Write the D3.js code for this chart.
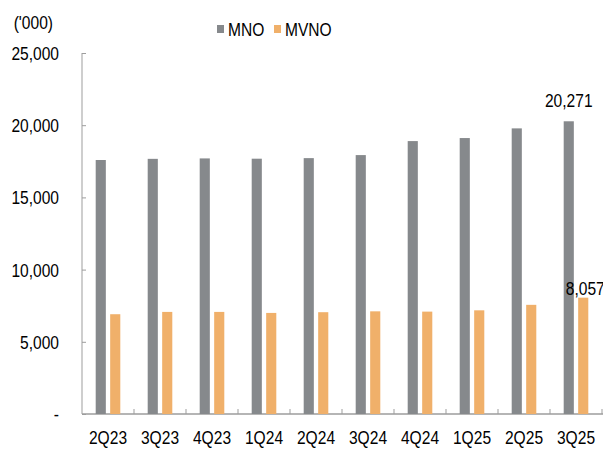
<!DOCTYPE html>
<html>
<head>
<meta charset="utf-8">
<script src="https://cdn.jsdelivr.net/npm/d3@7/dist/d3.min.js"></script>
<style>
  body { margin: 0; background: #fff; }
  text { font-family: "Liberation Sans", Arial, sans-serif; fill: #000; }
</style>
</head>
<body>
<svg width="603" height="450"></svg>
<script>
// quarters on the x axis
const quarters = ['2Q23', '3Q23', '4Q23', '1Q24', '2Q24', '3Q24', '4Q24', '1Q25', '2Q25', '3Q25'];
// subscribers ('000)
const mno = [17590, 17670, 17700, 17680, 17720, 17930, 18900, 19110, 19780, 20271];
const mvno = [6910, 7070, 7070, 7000, 7050, 7110, 7090, 7180, 7560, 8057];
const yTicks = [0, 5000, 10000, 15000, 20000, 25000];
const seriesNames = ['MNO', 'MVNO'];
const colors = ['#86898c', '#f0b06a'];

const svg = d3.select('svg');
const margin = { top: 53, right: 1, bottom: 36, left: 82 };
const innerWidth = 603 - margin.left - margin.right;
const innerHeight = 450 - margin.top - margin.bottom;

const g = svg.append('g')
  .attr('transform', `translate(${margin.left}, ${margin.top})`);

// the chart font is a narrow one, squeeze the regular sans to fake it
const narrow = 0.82;
function label(parent, x, y, str, anchor) {
  return parent.append('text')
    .attr('transform', `translate(${x}, ${y}) scale(${narrow}, 1)`)
    .attr('text-anchor', anchor)
    .attr('font-size', 19)
    .text(str);
}

const xScale = d3.scaleBand()
  .domain(quarters)
  .range([0, innerWidth]);

const xInner = d3.scaleBand()
  .domain(seriesNames)
  .range([13.7, 38.3])
  .paddingInner(0.3);

const yScale = d3.scaleLinear()
  .domain([0, 25000])
  .range([innerHeight, 0]);

const axisColor = '#9d9d9d';

// y axis
const yAxis = g.append('g').call(
  d3.axisRight(yScale).tickValues(yTicks).tickSize(4).tickFormat('')
);
yAxis.select('.domain').attr('stroke', axisColor).attr('d', `M0,0V${innerHeight}`);
yAxis.selectAll('.tick line').attr('stroke', axisColor);

yTicks.forEach(d => {
  label(g, -23, yScale(d) + 7, d === 0 ? '-' : d3.format(',')(d), 'end');
});

// x axis
const xAxis = g.append('g')
  .attr('transform', `translate(0, ${innerHeight})`)
  .call(d3.axisBottom(xScale).tickSize(0).tickFormat(''));
xAxis.select('.domain').attr('stroke', axisColor).attr('stroke-width', 1.5).attr('d', `M0,0H${innerWidth + 2}`);

g.selectAll('.xtick').data(quarters)
  .enter().append('line')
    .attr('class', 'xtick')
    .attr('x1', d => xScale(d) + xScale.bandwidth())
    .attr('x2', d => xScale(d) + xScale.bandwidth())
    .attr('y1', innerHeight)
    .attr('y2', innerHeight - 5)
    .attr('stroke', axisColor);

quarters.forEach(q => {
  label(g, xScale(q) + xScale.bandwidth() / 2, innerHeight + 30, q, 'middle');
});

// bars
const rows = quarters.map((q, i) => ({ q, MNO: mno[i], MVNO: mvno[i] }));

seriesNames.forEach((s, si) => {
  g.selectAll('.bar-' + s).data(rows)
    .enter().append('rect')
      .attr('class', 'bar-' + s)
      .attr('x', d => xScale(d.q) + xInner(s))
      .attr('y', d => yScale(d[s]))
      .attr('width', xInner.bandwidth())
      .attr('height', d => innerHeight - yScale(d[s]))
      .attr('fill', colors[si]);
});

// labels on the last quarter
const last = rows[rows.length - 1];
const labelOffsets = { MNO: 14, MVNO: 3 };
seriesNames.forEach(s => {
  label(g,
    xScale(last.q) + xInner(s) + xInner.bandwidth() / 2 + (s === 'MVNO' ? 2 : 0),
    yScale(last[s]) - labelOffsets[s],
    d3.format(',')(last[s]), 'middle');
});

// unit label
label(svg, 53, 29, "('000)", 'end');

// legend
const legendX = [217, 274];
seriesNames.forEach((s, i) => {
  svg.append('rect')
    .attr('x', legendX[i])
    .attr('y', 25)
    .attr('width', 7)
    .attr('height', 8)
    .attr('fill', colors[i]);
  label(svg, legendX[i] + 11, 36, s, 'start');
});
</script>
</body>
</html>
